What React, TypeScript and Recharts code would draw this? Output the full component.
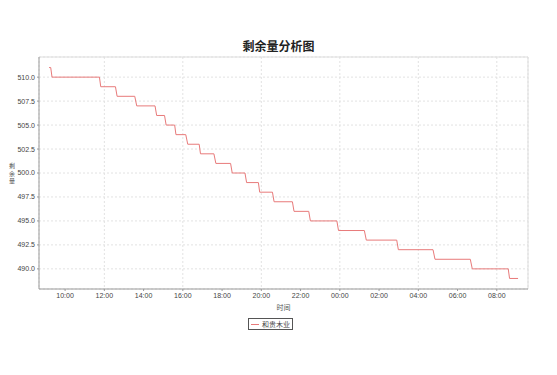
import { LineChart, Line, XAxis, YAxis, CartesianGrid, ReferenceLine } from "recharts";

const seriesName = "和贵木业";
const chartTitle = "剩余量分析图";
const xAxisName = "时间";
const yAxisName = "剩余量";

// sample times (clock time, the series runs over midnight)
const times = [
  "09:11", "09:16", "09:20", "11:45", "11:49", "12:34", "12:39", "13:33", "13:39", "14:35",
  "14:40", "15:04", "15:09", "15:35", "15:39", "16:09", "16:15", "16:50", "16:54", "17:35",
  "17:41", "18:26", "18:31", "19:10", "19:15", "19:51", "19:55", "20:34", "20:39", "21:35",
  "21:40", "22:25", "22:30", "23:51", "23:56", "01:15", "01:21", "02:54", "02:59", "04:45",
  "04:51", "06:39", "06:45", "08:35", "08:39", "09:05",
];
const remaining = [
  511, 511, 510, 510, 509, 509, 508, 508, 507, 507,
  506, 506, 505, 505, 504, 504, 503, 503, 502, 502,
  501, 501, 500, 500, 499, 499, 498, 498, 497, 497,
  496, 496, 495, 495, 494, 494, 493, 493, 492, 492,
  491, 491, 490, 490, 489, 489,
];
const xTicks = [10, 12, 14, 16, 18, 20, 22, 24, 26, 28, 30, 32];
const yTicks = [490, 492.5, 495, 497.5, 500, 502.5, 505, 507.5, 510];
const xDomain = [8.67, 33.59];
const yDomain = [487.9, 512.1];

const lineColor = "#e87a7a";
const tickFont = { fontSize: 7, fontFamily: "Liberation Sans", fill: "#444" };

// clock strings -> hours, adding a day when the clock wraps
let prev = -1;
let dayOffset = 0;
const data = times.map((t, i) => {
  const [hh, mm] = t.split(":").map(Number);
  const h = hh + mm / 60;
  if (h < prev) dayOffset += 24;
  prev = h;
  return { t: h + dayOffset, v: remaining[i] };
});

const fmtHour = (h: number) => `${String(h % 24).padStart(2, "0")}:00`;

export default function App() {
  return (
    <div style={{ position: "absolute", left: 0, top: 0, width: 557, height: 375, background: "#fff" }}>
      <div
        style={{
          position: "absolute",
          left: 0,
          width: 557,
          top: 38,
          textAlign: "center",
          fontFamily: "Noto Sans CJK SC",
          fontWeight: 700,
          fontSize: 12,
          lineHeight: "16px",
          color: "#222",
        }}
      >
        {chartTitle}
      </div>
      {/* y axis name, upright characters stacked */}
      <div
        style={{
          position: "absolute",
          left: 8,
          top: 162,
          width: 8,
          textAlign: "center",
          fontFamily: "Noto Sans CJK SC",
          fontSize: 6,
          lineHeight: "7.5px",
          color: "#555",
        }}
      >
        {yAxisName.split("").map((c, i) => (
          <div key={i}>{c}</div>
        ))}
      </div>
      <LineChart width={557} height={375} data={data} margin={{ top: 57, right: 29, left: 0, bottom: 65 }}>
        <CartesianGrid stroke="#e2e2e2" strokeDasharray="2 2" />
        <XAxis
          dataKey="t"
          type="number"
          domain={xDomain}
          ticks={xTicks}
          tickFormatter={fmtHour}
          height={21}
          tick={tickFont}
          tickSize={2}
          tickMargin={2}
          stroke="#999"
          allowDataOverflow
          label={{ value: xAxisName, position: "insideBottom", offset: 0, fontSize: 7, fill: "#555", fontFamily: "Noto Sans CJK SC" }}
        />
        <YAxis
          dataKey="v"
          type="number"
          domain={yDomain}
          ticks={yTicks}
          tickFormatter={(v: number) => v.toFixed(1)}
          width={39}
          tick={tickFont}
          tickSize={2}
          tickMargin={2}
          stroke="#999"
          allowDataOverflow
        />
        <ReferenceLine y={yDomain[1]} stroke="#ddd" />
        <ReferenceLine x={xDomain[1]} stroke="#ddd" />
        <Line
          type="linear"
          dataKey="v"
          name={seriesName}
          stroke={lineColor}
          strokeWidth={1}
          dot={false}
          isAnimationActive={false}
        />
      </LineChart>
      <div
        style={{
          position: "absolute",
          left: 248,
          top: 318,
          width: 41,
          height: 10,
          border: "1px solid #555",
          display: "flex",
          alignItems: "center",
          gap: 3,
          paddingLeft: 2,
          boxSizing: "content-box",
          fontFamily: "Noto Sans CJK SC",
          fontSize: 7,
          color: "#444",
        }}
      >
        <span style={{ width: 8, height: 1, background: lineColor, display: "inline-block" }} />
        <span style={{ lineHeight: "10px" }}>{seriesName}</span>
      </div>
    </div>
  );
}
